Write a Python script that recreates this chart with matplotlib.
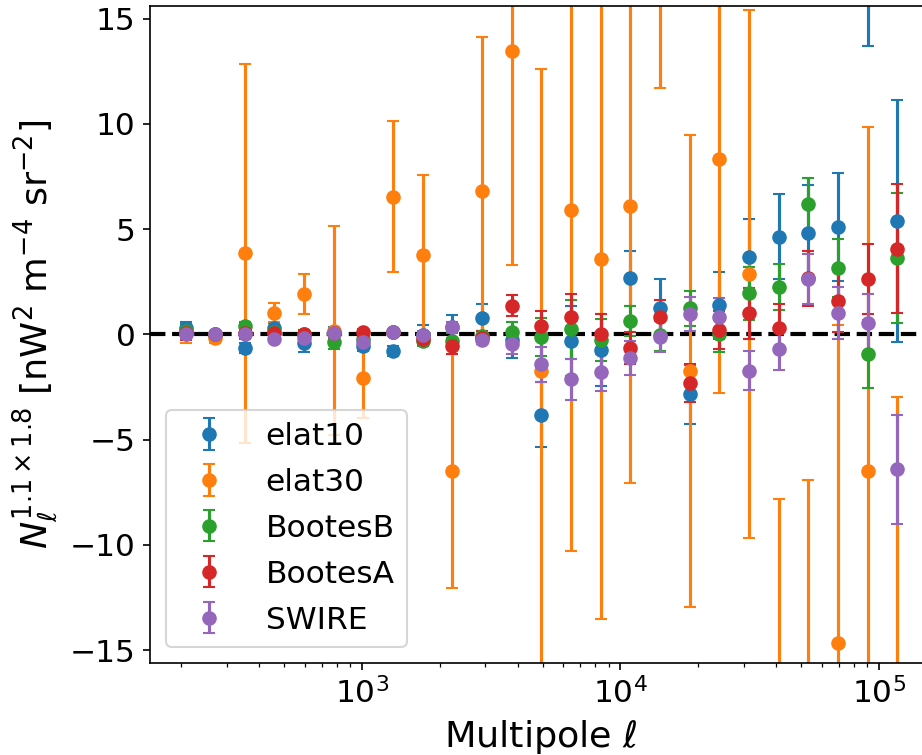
import numpy as np
import matplotlib as mpl
mpl.use('Agg')
import matplotlib.pyplot as plt

plt.rcParams['font.size'] = 15

# multipole bin centres
ell = [208, 271, 353, 459, 598, 779, 1014, 1321, 1720, 2240, 2917, 3798, 4946,
       6441, 8387, 10922, 14223, 18521, 24118, 31407, 40898, 53258, 69353,
       90313, 117605]

fields = ['elat10', 'elat30', 'BootesB', 'BootesA', 'SWIRE']

elat10 = [0.30, -0.05, -0.64, 0.28, -0.40, 0.05, -0.56, -0.79, -0.05, 0.35, 0.79,
          -0.27, -3.81, -0.30, -0.75, 2.66, 1.27, -2.84, 1.38, 3.69, 4.64, 4.80,
          5.12, 16.6, 5.39]
elat10_err = [0.27, 0.15, 0.23, 0.25, 0.45, 0.30, 0.23, 0.25, 0.50, 0.55, 0.64,
              0.87, 1.54, 1.66, 1.70, 1.30, 1.34, 1.40, 1.60, 1.78, 2.02, 2.30,
              2.57, 2.92, 5.76]

elat30 = [0.05, -0.15, 3.85, 1.03, 1.92, 0.18, -2.06, 6.55, 3.76, -6.49, 6.82,
          13.48, -1.73, 5.91, 3.57, 6.12, 19.5, -1.75, 8.33, 2.87, -22.0, -20.0,
          -14.65, -6.49, -21.0]
elat30_err = [0.45, 0.28, 9.0, 0.45, 0.95, 4.97, 1.9, 3.6, 3.8, 5.55, 7.3, 10.2,
              14.35, 16.2, 17.08, 13.2, 7.8, 11.2, 11.1, 12.56, 14.2, 13.1, 15.1,
              16.35, 18.0]

bootesB = [0.15, 0.0, 0.38, 0.10, 0.0, -0.38, -0.20, 0.10, -0.30, -0.30, -0.10,
           0.10, -0.11, 0.24, -0.27, 0.63, -0.05, 1.24, 0.0, 1.95, 2.24, 6.18,
           3.17, -0.94, 3.62]
bootesB_err = [0.35, 0.15, 0.20, 0.20, 0.20, 0.30, 0.25, 0.10, 0.20, 0.35, 0.25,
               0.50, 0.90, 1.40, 1.00, 0.73, 0.75, 0.82, 0.85, 1.25, 1.08, 1.27,
               1.38, 1.60, 3.10]

bootesA = [0.05, 0.0, 0.05, 0.05, 0.0, 0.05, 0.10, 0.10, -0.20, -0.56, -0.15,
           1.36, 0.41, 0.84, 0.0, -0.64, 0.84, -2.30, 0.20, 1.00, 0.31, 2.67,
           1.58, 2.63, 4.07]
bootesA_err = [0.30, 0.15, 0.25, 0.20, 0.20, 0.20, 0.15, 0.10, 0.30, 0.38, 0.30,
               0.50, 0.70, 1.10, 0.95, 0.76, 0.80, 0.90, 0.90, 1.20, 1.12, 1.30,
               1.45, 1.65, 3.06]

swire = [0.0, 0.0, 0.0, -0.22, -0.19, 0.05, -0.35, 0.12, -0.03, 0.36, -0.27,
         -0.46, -1.43, -2.13, -1.81, -1.11, -0.11, 0.97, 0.84, -1.73, -0.71, 2.63,
         1.03, 0.52, -6.42]
swire_err = [0.20, 0.10, 0.10, 0.15, 0.15, 0.15, 0.15, 0.10, 0.20, 0.22, 0.20,
             0.48, 0.85, 0.97, 0.87, 0.80, 0.73, 0.80, 0.87, 0.93, 1.00, 1.17,
             1.24, 1.40, 2.60]

values = [elat10, elat30, bootesB, bootesA, swire]
errors = [elat10_err, elat30_err, bootesB_err, bootesA_err, swire_err]

fig = plt.figure(figsize=(922/150, 755/150), dpi=150)
ax = fig.add_axes([0.1627, 0.1223, 0.849, 0.8697])

ax.axhline(0, color='k', ls='--', lw=2)
for name, y, e in zip(fields, values, errors):
    ax.errorbar(ell, y, yerr=e, fmt='o', capsize=3, label=name)

ax.set_xscale('log')
ax.set_ylim(-15.6, 15.6)
ax.set_xlabel(r'Multipole $\ell$', fontsize=17.5)
ax.set_ylabel(r'$N_\ell^{1.1\times1.8}$ [nW$^2$ m$^{-4}$ sr$^{-2}$]', fontsize=17.5)
ax.legend(loc='lower left', labelspacing=0.54)

fig.savefig('out.png', dpi=150)
